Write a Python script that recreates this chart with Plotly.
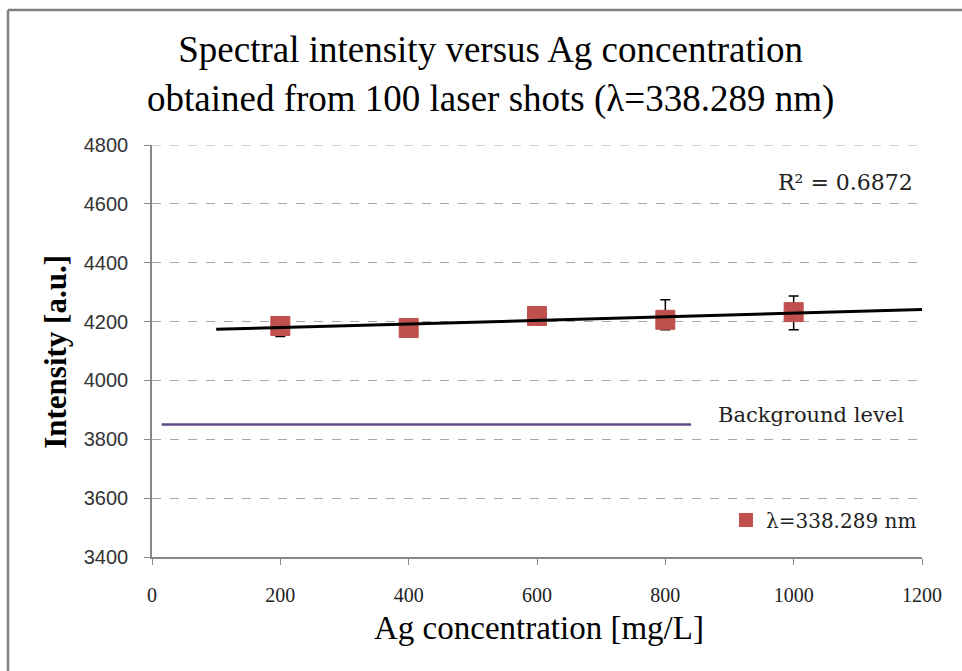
import numpy as np
import plotly.graph_objects as go

# Ag concentration [mg/L] and measured spectral intensity at 338.289 nm
conc = [200, 400, 600, 800, 1000]
intensity = [4185, 4178, 4219, 4206, 4232]
err_plus = [28, 20, 22, 68, 55]
err_minus = [36, 20, 22, 34, 60]

# background level line
bg_x = [15, 840]
bg_y = [3850, 3850]

# linear trend range
trend_x = [100, 1200]
r2_text = "R² = 0.6872"

x_ticks = [0, 200, 400, 600, 800, 1000, 1200]
y_ticks = [3400, 3600, 3800, 4000, 4200, 4400, 4600, 4800]

slope, intercept = np.polyfit(conc, intensity, 1)
trend_y = [slope * v + intercept for v in trend_x]

fig = go.Figure()

fig.add_trace(go.Scatter(
    x=bg_x, y=bg_y, mode="lines",
    line=dict(color="#5E4A8A", width=2.5),
    showlegend=False, hoverinfo="skip",
))

fig.add_trace(go.Scatter(
    x=conc, y=intensity, mode="markers",
    name="λ=338.289 nm",
    marker=dict(symbol="square", size=19, color="#C0504D",
                line=dict(color="#C0504D", width=1)),
    error_y=dict(type="data", symmetric=False, array=err_plus,
                 arrayminus=err_minus, color="black", thickness=1.5, width=5),
))

fig.add_trace(go.Scatter(
    x=trend_x, y=trend_y, mode="lines",
    line=dict(color="black", width=3),
    showlegend=False, hoverinfo="skip",
))

serif = "Liberation Serif"
label_font = "DejaVu Serif"

fig.update_layout(
    width=962, height=671,
    margin=dict(l=152, r=40, t=145, b=114),
    paper_bgcolor="white", plot_bgcolor="white",
    title=dict(
        text="Spectral intensity versus Ag concentration<br>obtained from 100 laser shots (λ=338.289 nm)",
        font=dict(family=serif, size=37, color="black"),
        x=0.51, xref="container", xanchor="center",
        y=0.907, yref="container", yanchor="middle",
    ),
    showlegend=True,
    legend=dict(
        x=1.0, xanchor="right", y=0.09, yanchor="middle",
        bgcolor="rgba(0,0,0,0)",
        font=dict(family=label_font, size=20, color="#222222"),
        itemsizing="constant",
    ),
    xaxis=dict(
        range=[0, 1200], tickvals=x_ticks,
        showgrid=False, zeroline=False,
        showline=True, linecolor="#888888", linewidth=1.5,
        ticks="outside", ticklen=6, tickcolor="#888888",
        ticklabelstandoff=13,
        tickfont=dict(family=serif, size=20, color="#222222"),
    ),
    yaxis=dict(
        range=[3400, 4800], tickvals=y_ticks,
        showgrid=True, gridcolor="#A6A6A6", gridwidth=1, griddash="dash",
        zeroline=False,
        showline=True, linecolor="#888888", linewidth=1.5,
        ticks="outside", ticklen=6, tickcolor="#888888",
        ticklabelstandoff=12,
        tickfont=dict(family="Liberation Sans", size=20, color="#333333"),
    ),
    annotations=[
        dict(text=r2_text, x=1080, y=4672, xref="x", yref="y",
             xanchor="center", yanchor="middle",
             showarrow=False, font=dict(family=label_font, size=22, color="#222222")),
        dict(text="Background level", x=1027, y=3883, xref="x", yref="y",
             xanchor="center", yanchor="middle",
             showarrow=False, font=dict(family=label_font, size=21, color="#222222")),
        dict(text="<b>Intensity [a.u.]</b>", textangle=-90,
             x=-0.1247, y=0.498, xref="paper", yref="paper",
             xanchor="center", yanchor="middle",
             showarrow=False, font=dict(family=serif, size=31, color="black")),
        dict(text="Ag concentration [mg/L]",
             x=0.5026, y=-0.172, xref="paper", yref="paper",
             xanchor="center", yanchor="middle",
             showarrow=False, font=dict(family=serif, size=33, color="black")),
    ],
    shapes=[
        # dashed gridline along the top of the value range
        dict(type="line", xref="paper", yref="y", layer="below",
             x0=0, x1=1, y0=y_ticks[-1], y1=y_ticks[-1],
             line=dict(color="#A6A6A6", width=1, dash="dash")),
        # chart frame (top and left edges)
        dict(type="line", xref="paper", yref="paper",
             x0=-0.187, x1=1.06, y0=1.3277, y1=1.3277,
             line=dict(color="#808080", width=2.5)),
        dict(type="line", xref="paper", yref="paper",
             x0=-0.187, x1=-0.187, y0=1.3277, y1=-0.3,
             line=dict(color="#808080", width=2.5)),
    ],
)

fig.write_html("out.html")
